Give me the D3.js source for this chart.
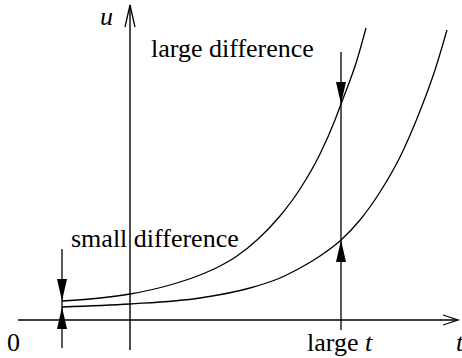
<!DOCTYPE html>
<html><head><meta charset="utf-8">
<script src="https://cdn.jsdelivr.net/npm/d3@7"></script>
<style>html,body{margin:0;padding:0;background:#fff;overflow:hidden}
body{position:relative;width:462px;height:358px}
svg{position:absolute;left:0;top:0}
.lbl{position:absolute;font-family:"Liberation Serif","Times New Roman",Tinos,serif;font-size:26px;line-height:1;white-space:nowrap;color:#000}
.it{font-style:italic}</style>
</head><body>
<script>
// data (t in arbitrary units, u in arbitrary units)
const upperT = [44, 82, 112, 152, 182, 202, 219, 239, 262, 282, 302, 317, 323, 339, 348];
const upperU = [19, 22, 26, 35, 45, 54, 64, 80, 104, 131, 166, 200, 216, 260, 292];
const lowerT = [44, 112, 182, 232, 262, 282, 302, 323, 342, 362, 382, 402, 417, 429];
const lowerU = [13, 16, 22, 32, 42, 52, 64, 80, 100, 128, 163, 209, 250, 290];
const smallT = 44;
const largeT = 323;
const labels = {u: "u", t: "t", zero: "0", small: "small difference", large: "large difference", largeT: "large "};

const W = 462, H = 358;
const x = d3.scaleLinear().domain([0, 440]).range([18, 458]);
const y = d3.scaleLinear().domain([0, 320]).range([320, 0]);
const yAxisX = 130;

const svg = d3.select("body").append("svg").attr("width", W).attr("height", H);

function uAt(T, U, t) {
  const i = T.indexOf(t);
  return U[i];
}

// axes
svg.append("line").attr("x1", x(0)).attr("y1", y(0)).attr("x2", x(440)).attr("y2", y(0))
  .attr("stroke", "#000").attr("stroke-width", 1.4);
svg.append("line").attr("x1", yAxisX).attr("y1", 5).attr("x2", yAxisX).attr("y2", 350)
  .attr("stroke", "#000").attr("stroke-width", 1.4);
// open arrowheads
svg.append("path").attr("d", `M${x(440)-15},${y(0)-5} L${x(440)},${y(0)} L${x(440)-15},${y(0)+5}`)
  .attr("fill", "none").attr("stroke", "#000").attr("stroke-width", 1.3);
svg.append("path").attr("d", `M${yAxisX-5},27 L${yAxisX},5 L${yAxisX+5},27`)
  .attr("fill", "none").attr("stroke", "#000").attr("stroke-width", 1.3);

// curves
const line = d3.line().x(d => x(d[0])).y(d => y(d[1])).curve(d3.curveMonotoneX);
svg.append("path").attr("d", line(upperT.map((t, i) => [t, upperU[i]])))
  .attr("fill", "none").attr("stroke", "#000").attr("stroke-width", 1.3);
svg.append("path").attr("d", line(lowerT.map((t, i) => [t, lowerU[i]])))
  .attr("fill", "none").attr("stroke", "#000").attr("stroke-width", 1.3);

// marker lines
function tri(xc, tipY, dir) { // dir=+1 pointing down, -1 pointing up
  const L = 22, hw = 5;
  return `M${xc},${tipY} L${xc-hw},${tipY - dir*L} L${xc+hw},${tipY - dir*L} Z`;
}
const xs = x(smallT);
svg.append("line").attr("x1", xs).attr("y1", 249).attr("x2", xs).attr("y2", 348)
  .attr("stroke", "#000").attr("stroke-width", 1.3);
svg.append("path").attr("d", tri(xs, y(uAt(upperT, upperU, smallT)), 1)).attr("fill", "#000");
svg.append("path").attr("d", tri(xs, y(uAt(lowerT, lowerU, smallT)), -1)).attr("fill", "#000");

const xl = x(largeT);
svg.append("line").attr("x1", xl).attr("y1", 52).attr("x2", xl).attr("y2", 330)
  .attr("stroke", "#000").attr("stroke-width", 1.3);
svg.append("path").attr("d", tri(xl, y(uAt(upperT, upperU, largeT)), 1)).attr("fill", "#000");
svg.append("path").attr("d", tri(xl, y(uAt(lowerT, lowerU, largeT)), -1)).attr("fill", "#000");

// text labels as HTML (serif), positioned by baseline
function label(parts, lx, baseY) {
  const d = d3.select("body").append("div").attr("class", "lbl")
    .style("left", lx + "px").style("top", "0px");
  parts.forEach(p => d.append("span").attr("class", p[1] ? "it" : null).text(p[0]));
  const m = d.append("span").style("display", "inline-block").style("width", "0px").style("height", "0px");
  const off = m.node().offsetTop;
  d.style("top", (baseY - off) + "px");
  return d;
}
label([[labels.zero, false]], 7, 351);
label([[labels.large, false]], 151, 57);
label([[labels.small, false]], 71, 247);
label([[labels.largeT, false], [labels.t, true]], 307, 351);
label([[labels.u, true]], 100, 25);
label([[labels.t, true]], 456, 351);
</script>
</body></html>
